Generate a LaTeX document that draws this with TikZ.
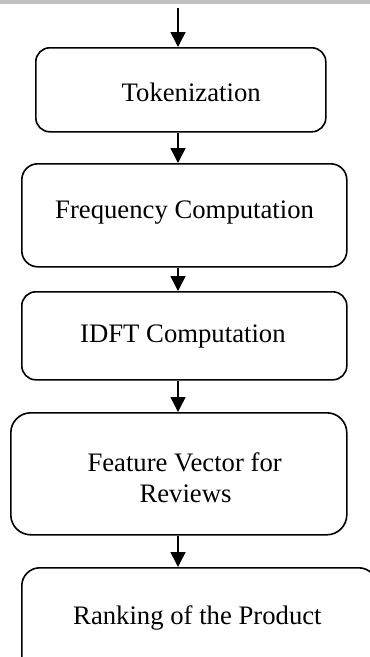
\documentclass[tikz,border=0pt]{standalone}
\usepackage{fontspec}
\setmainfont{Liberation Serif}
\usetikzlibrary{arrows.meta}
\definecolor{bargray}{RGB}{192,192,192}
\tikzset{
  stepbox/.style={draw=black, line width=1.6pt, anchor=north west, inner sep=0pt, fill=white},
  lbl/.style={anchor=base west, inner sep=0pt, font=\fontsize{26.7}{30}\selectfont},
  arr/.style={line width=1.5pt, -{Triangle[length=15pt,width=15pt]}}
}
\begin{document}
\begin{tikzpicture}[x=1pt,y=-1pt]
\useasboundingbox (0,0) rectangle (370,657);
\fill[bargray] (0,0) rectangle (370,4);
\coordinate (top) at (178,8);
\node[stepbox, rounded corners=14pt, minimum width=290pt, minimum height=84pt] (b1) at (35,47) {};
\node[stepbox, rounded corners=16pt, minimum width=325pt, minimum height=103pt] (b2) at (21,163) {};
\node[stepbox, rounded corners=14pt, minimum width=325pt, minimum height=88pt] (b3) at (21,291) {};
\node[stepbox, rounded corners=20pt, minimum width=336pt, minimum height=122pt] (b4) at (10,412) {};
\node[stepbox, rounded corners=18pt, minimum width=355pt, minimum height=120pt] (b5) at (21,567) {};
\node[lbl] (t1) at (121.5,101.5) {Tokenization};
\node[lbl] (t2) at (55,218.5) {Frequency Computation};
\node[lbl] (t3) at (80,342.7) {IDFT Computation};
\node[lbl] (t4a) at (87.3,471.7) {Feature Vector for};
\node[lbl] (t4b) at (139.3,502.3) {Reviews};
\node[lbl] (t5) at (73,624) {Ranking of the Product};
\draw[arr] (top) -- (b1.north -| top);
\draw[arr] (b1.south -| top) -- (b2.north -| top);
\draw[arr] (b2.south -| top) -- (b3.north -| top);
\draw[arr] (b3.south -| top) -- (b4.north -| top);
\draw[arr] (b4.south -| top) -- (b5.north -| top);
\end{tikzpicture}
\end{document}
